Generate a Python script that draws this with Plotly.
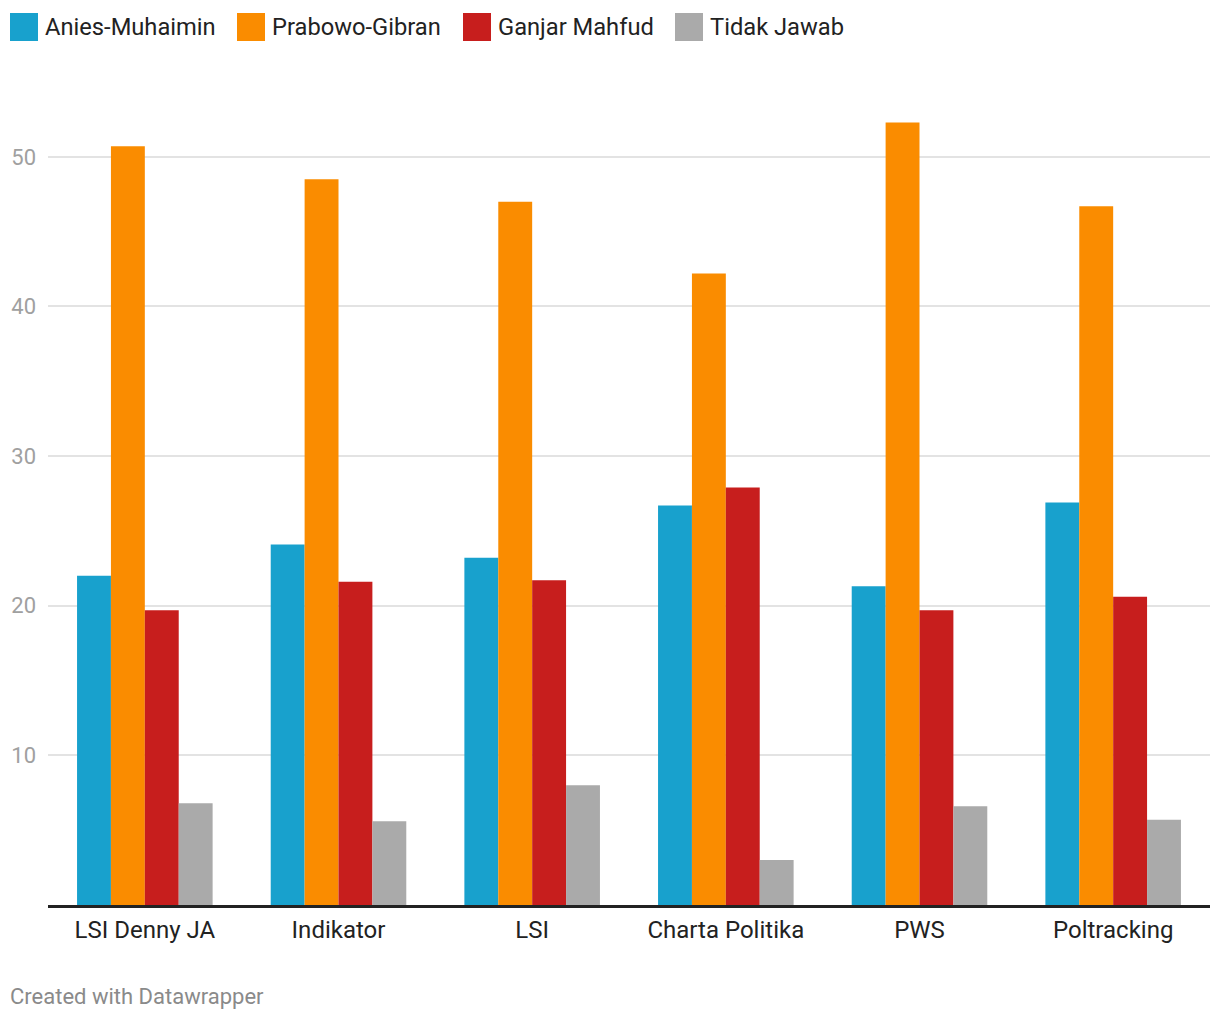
import plotly.graph_objects as go

categories = ["LSI Denny JA", "Indikator", "LSI", "Charta Politika", "PWS", "Poltracking"]
series_names = ["Anies-Muhaimin", "Prabowo-Gibran", "Ganjar Mahfud", "Tidak Jawab"]
anies = [22.0, 24.1, 23.2, 26.7, 21.3, 26.9]
prabowo = [50.7, 48.5, 47.0, 42.2, 52.3, 46.7]
ganjar = [19.7, 21.6, 21.7, 27.9, 19.7, 20.6]
tidak = [6.8, 5.6, 8.0, 3.0, 6.6, 5.7]
y_ticks = [10, 20, 30, 40, 50]

colors = ["#18a1cd", "#fa8c00", "#c71e1d", "#aaaaaa"]
values = [anies, prabowo, ganjar, tidak]

OFF = 8  # page body margin offset
W, H = 1212, 1012
ml, mr, mt, mb = 48 - OFF, 10, 82 - OFF, 115
pw = W - ml - mr
ph = H - mt - mb

fig = go.Figure()
for name, vals, c in zip(series_names, values, colors):
    fig.add_trace(go.Bar(x=categories, y=vals, name=name, marker=dict(color=c, line=dict(width=0)),
                         showlegend=False, hovertemplate="%{x}<br>" + name + ": %{y}<extra></extra>"))

legend_x = [10, 237, 463, 675]

def px_to_paper_x(px):
    return (px - OFF - ml) / pw

def py_to_paper_y(py):
    return (H - mb - (py - OFF)) / ph

shapes = []
annotations = []
for name, c, lx in zip(series_names, colors, legend_x):
    shapes.append(dict(type="rect", xref="paper", yref="paper",
                       x0=px_to_paper_x(lx), x1=px_to_paper_x(lx + 28),
                       y0=py_to_paper_y(41), y1=py_to_paper_y(13),
                       fillcolor=c, line=dict(width=0)))
    annotations.append(dict(text=name, xref="paper", yref="paper",
                            x=px_to_paper_x(lx + 33), y=py_to_paper_y(27),
                            xanchor="left", yanchor="middle", showarrow=False,
                            font=dict(family="Roboto", size=23.7, color="#222222")))

annotations.append(dict(text="Created with Datawrapper", xref="paper", yref="paper",
                        x=px_to_paper_x(8), y=py_to_paper_y(997),
                        xanchor="left", yanchor="middle", showarrow=False,
                        font=dict(family="Roboto", size=22, color="#8a8a8a")))

fig.update_layout(
    width=W, height=H,
    margin=dict(l=ml, r=mr, t=mt, b=mb, pad=0, autoexpand=False),
    paper_bgcolor="white", plot_bgcolor="white",
    barmode="group", bargap=0.3, bargroupgap=0,
    font=dict(family="Roboto", color="#222222"),
    shapes=shapes, annotations=annotations,
    xaxis=dict(range=[-0.5, 5.5], showgrid=False, showline=True, linecolor="#222222", linewidth=2.5,
               ticks="", tickfont=dict(family="Roboto", size=24, color="#222222"), ticklabelstandoff=1,
               zeroline=False, fixedrange=True, automargin=False),
    yaxis=dict(range=[0, 55], tickvals=y_ticks, showgrid=True, gridcolor="#e3e3e3", gridwidth=1.5,
               showline=False, zeroline=False, ticks="",
               tickfont=dict(family="Roboto", size=22, color="#a0a0a0"), ticklabelstandoff=11,
               fixedrange=True, automargin=False),
)

fig.write_html("out.html")
